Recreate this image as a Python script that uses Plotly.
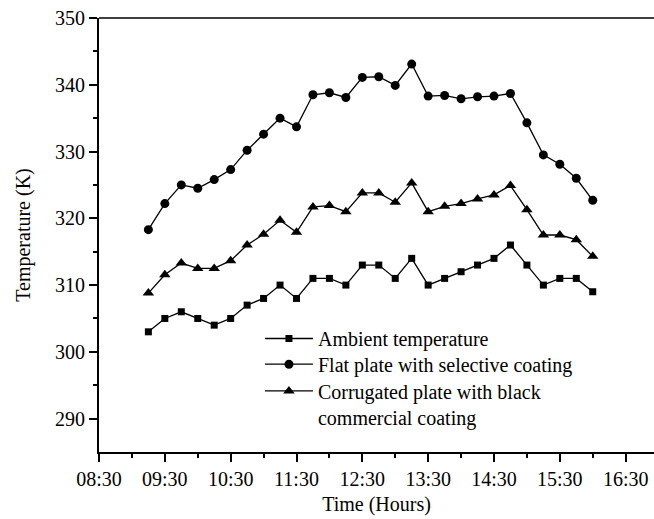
import plotly.graph_objects as go

times = ["09:15", "09:30", "09:45", "10:00", "10:15", "10:30", "10:45", "11:00",
         "11:15", "11:30", "11:45", "12:00", "12:15", "12:30", "12:45", "13:00",
         "13:15", "13:30", "13:45", "14:00", "14:15", "14:30", "14:45", "15:00",
         "15:15", "15:30", "15:45", "16:00"]

ambient = [303, 305, 306, 305, 304, 305, 307, 308, 310, 308, 311, 311, 310, 313,
           313, 311, 314, 310, 311, 312, 313, 314, 316, 313, 310, 311, 311, 309]

flat_plate = [318.3, 322.2, 325.0, 324.5, 325.8, 327.3, 330.2, 332.6, 335.0, 333.7,
              338.5, 338.8, 338.1, 341.1, 341.2, 339.9, 343.1, 338.3, 338.4, 337.9,
              338.2, 338.3, 338.7, 334.3, 329.5, 328.1, 326.0, 322.7]

corrugated = [308.8, 311.55, 313.3, 312.5, 312.5, 313.65, 316.0, 317.6, 319.7, 317.9,
              321.7, 321.9, 321.0, 323.8, 323.8, 322.4, 325.3, 321.0, 321.8, 322.2,
              322.9, 323.5, 324.9, 321.3, 317.5, 317.5, 316.8, 314.3]

tick_labels = ["08:30", "09:30", "10:30", "11:30", "12:30", "13:30", "14:30", "15:30", "16:30"]
y_ticks = [290, 300, 310, 320, 330, 340, 350]

DAY = "2020-01-01 "
x = [DAY + t for t in times]

FONT = "Times New Roman, Liberation Serif, serif"

fig = go.Figure()
fig.add_trace(go.Scatter(x=x, y=ambient, mode="lines+markers", name="Ambient temperature",
                         legend="legend",
                         line=dict(color="black", width=1.3),
                         marker=dict(symbol="square", size=7, color="black")))
fig.add_trace(go.Scatter(x=x, y=flat_plate, mode="lines+markers", name="Flat plate with selective coating",
                         legend="legend2",
                         line=dict(color="black", width=1.3),
                         marker=dict(symbol="circle", size=9, color="black")))
fig.add_trace(go.Scatter(x=x, y=corrugated, mode="lines+markers",
                         name="Corrugated plate with black<br>commercial coating",
                         legend="legend3",
                         line=dict(color="black", width=1.3),
                         marker=dict(symbol="triangle-up", size=10, color="black")))


def leg(ypos):
    return dict(x=0.29, y=ypos, xanchor="left", yanchor="top", bgcolor="rgba(0,0,0,0)",
                font=dict(family=FONT, size=20, color="black"), itemwidth=48,
                valign="top", tracegroupgap=0)


fig.update_layout(
    width=654, height=519,
    margin=dict(l=99, r=0, t=18, b=67),
    paper_bgcolor="white", plot_bgcolor="white",
    font=dict(family=FONT, size=20, color="black"),
    showlegend=True,
    legend=leg(0.3065),
    legend2=leg(0.2472),
    legend3=leg(0.1857),
    xaxis=dict(
        type="date",
        range=[DAY + "08:30", DAY + "16:55:50"],
        tickvals=[DAY + t for t in tick_labels], ticktext=tick_labels,
        ticks="outside", ticklen=8, tickwidth=1.5, tickcolor="black",
        showline=True, linewidth=2, linecolor="black",
        showgrid=False, zeroline=False,
        minor=dict(tickvals=[DAY + "%02d:00" % h for h in range(9, 17)],
                   ticks="outside", ticklen=4, tickwidth=1.5, tickcolor="black", showgrid=False),
        title=dict(text="Time (Hours)", font=dict(family=FONT, size=20), standoff=8),
    ),
    yaxis=dict(
        range=[285, 350],
        tickvals=y_ticks,
        ticks="outside", ticklen=8, tickwidth=1.5, tickcolor="black",
        showline=True, linewidth=2, linecolor="black",
        showgrid=False, zeroline=False,
        minor=dict(tickvals=[295, 305, 315, 325, 335, 345],
                   ticks="outside", ticklen=4, tickwidth=1.5, tickcolor="black", showgrid=False),
        title=dict(text="Temperature (K)", font=dict(family=FONT, size=20), standoff=19),
    ),
    shapes=[dict(type="line", xref="paper", yref="paper", x0=0, x1=1, y0=1, y1=1,
                 line=dict(color="black", width=1.3))],
)

fig.write_html("out.html")
